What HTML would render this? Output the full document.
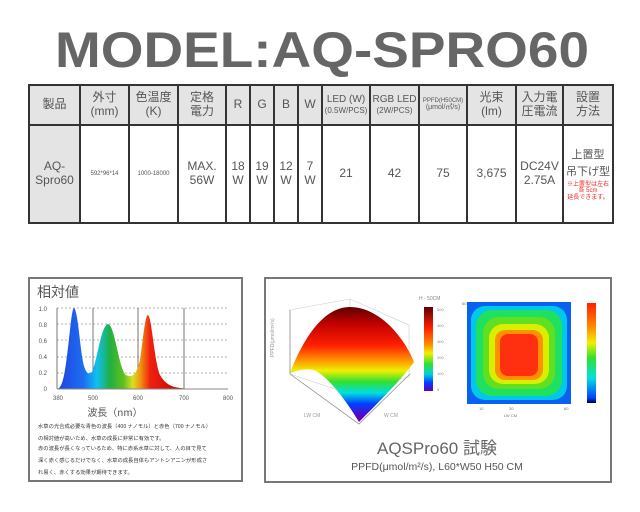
<!DOCTYPE html>
<html><head><meta charset="utf-8"><style>
body{margin:0;background:#fff;width:640px;height:512px;overflow:hidden;position:relative;font-family:"Liberation Sans","Noto Sans CJK JP",sans-serif}
.abs{position:absolute}
table{position:absolute;left:28px;top:84px;border-collapse:collapse;width:584px;height:140px;table-layout:fixed}
td{border:2px solid #333;text-align:center;color:#555;font-family:"Liberation Sans","Noto Sans CJK JP",sans-serif;padding:0;line-height:1.15;overflow:hidden}
tr.h td{background:#e4e4e4;height:38px;font-size:12px}
tr.b td{font-size:12px}
.g{background:#e4e4e4}
.sm{font-size:6px!important}
.pan{position:absolute;border:2px solid #777;background:#fff}
</style></head><body>
<svg class="abs" style="left:0;top:0" width="640" height="84">
<text x="55" y="67" textLength="534" lengthAdjust="spacingAndGlyphs" font-family="Liberation Sans" font-weight="bold" font-size="50" fill="#666">MODEL:AQ-SPRO60</text>
</svg>
<table>
<colgroup><col style="width:51px"><col style="width:49px"><col style="width:49px"><col style="width:48px"><col style="width:24px"><col style="width:24px"><col style="width:24px"><col style="width:24px"><col style="width:48px"><col style="width:49px"><col style="width:48px"><col style="width:49px"><col style="width:47px"><col style="width:50px"></colgroup>
<tr class="h"><td>製品</td><td>外寸<br>(mm)</td><td>色温度<br>(K)</td><td>定格<br>電力</td><td>R</td><td>G</td><td>B</td><td>W</td><td style="font-size:10px">LED (W)<br><span style="font-size:8px">(0.5W/PCS)</span></td><td style="font-size:10px">RGB LED<br><span style="font-size:8px">(2W/PCS)</span></td><td style="font-size:6px">PPFD(H50CM)<br><span style="font-size:7px">(μmol/㎡/s)</span></td><td>光束<br>(lm)</td><td>入力電<br>圧電流</td><td>設置<br>方法</td></tr>
<tr class="b"><td class="g">AQ-<br>Spro60</td><td class="sm">592*96*14</td><td class="sm">1000-18000</td><td>MAX.<br>56W</td><td>18<br>W</td><td>19<br>W</td><td>12<br>W</td><td>7<br>W</td><td>21</td><td>42</td><td>75</td><td>3,675</td><td>DC24V<br>2.75A</td><td style="line-height:1.6;font-size:11px;white-space:nowrap">上置型<br>吊下げ型<br><span style="color:#e22;font-size:6px;line-height:1.1;display:block">※上置型は左右<br>各 5cm<br>延長できます。</span></td></tr>
</table>

<div class="pan" style="left:28px;top:277px;width:211px;height:201px"></div>
<svg class="abs" style="left:0;top:270px" width="250" height="220">
<defs>
<linearGradient id="sp" x1="57" x2="190" gradientUnits="userSpaceOnUse">
<stop offset="0" stop-color="#2040e0"/><stop offset="0.2" stop-color="#1e6ff0"/><stop offset="0.3" stop-color="#10c0f0"/><stop offset="0.4" stop-color="#20b040"/><stop offset="0.5" stop-color="#60c020"/><stop offset="0.57" stop-color="#d8e020"/><stop offset="0.63" stop-color="#f09010"/><stop offset="0.7" stop-color="#f02010"/><stop offset="1" stop-color="#b00000"/>
</linearGradient></defs>
<text x="37" y="27" font-size="14" fill="#555" font-family="Noto Sans CJK JP,sans-serif">相対値</text>
<g stroke="#999" stroke-dasharray="2,2" stroke-width="0.8">
<line x1="57" x2="228" y1="38" y2="38"/><line x1="57" x2="228" y1="54" y2="54"/><line x1="57" x2="228" y1="70" y2="70"/><line x1="57" x2="228" y1="87" y2="87"/><line x1="57" x2="228" y1="103" y2="103"/></g>
<g stroke="#777" stroke-width="1"><line x1="57" x2="57" y1="38" y2="119"/><line x1="93" x2="93" y1="38" y2="119"/><line x1="138" x2="138" y1="38" y2="119"/><line x1="184" x2="184" y1="38" y2="119"/></g>
<path d="M57,119 C64,118 66,95 70,60 C72,42 73,38 74,38 C78,40 80,80 84,96 C87,105 89,104 92,102 C97,92 101,55 108,54 C115,55 119,100 126,105 C132,108 136,106 140,90 C143,70 145,45 148,45 C152,48 154,90 160,105 C166,115 172,117 180,118 C190,119 196,119 200,119 Z" fill="url(#sp)"/>
<line x1="57" x2="228" y1="119" y2="119" stroke="#888"/>
<g font-size="6" fill="#555" text-anchor="end"><text x="47" y="41">1.0</text><text x="47" y="57">0.8</text><text x="47" y="73">0.6</text><text x="47" y="89">0.4</text><text x="47" y="105">0.2</text><text x="47" y="121">0</text></g>
<g font-size="6" fill="#555" text-anchor="middle"><text x="58" y="130">380</text><text x="93" y="130">500</text><text x="138" y="130">600</text><text x="184" y="130">700</text><text x="228" y="130">800</text></g>
<text x="115" y="146" font-size="10" fill="#555" text-anchor="middle" font-family="Noto Sans CJK JP,sans-serif">波長（nm）</text>
<g font-size="5.3" fill="#333" font-family="Noto Sans CJK JP,sans-serif">
<text x="38" y="158">水草の光合成必要な青色の波長（400 ナノモル）と赤色（700 ナノモル）</text>
<text x="38" y="170">の相対値が高いため、水草の成長に非常に有効です。</text>
<text x="38" y="180">赤の波長が長くなっているため、特に赤系水草に対して、人の目で見て</text>
<text x="38" y="192">深く赤く感じるだけでなく、水草の成長自体もアントシアニンが形成さ</text>
<text x="38" y="204">れ易く、赤くする効果が期待できます。</text></g>
</svg>

<div class="pan" style="left:264px;top:277px;width:344px;height:202px"></div>
<svg class="abs" style="left:264px;top:277px" width="346" height="204">
<defs>
<linearGradient id="dm" x1="0" y1="30" x2="0" y2="140" gradientUnits="userSpaceOnUse">
<stop offset="0" stop-color="#600000"/><stop offset="0.15" stop-color="#c00000"/><stop offset="0.35" stop-color="#ff2000"/><stop offset="0.48" stop-color="#ff9000"/><stop offset="0.58" stop-color="#f0f000"/><stop offset="0.68" stop-color="#30e030"/><stop offset="0.78" stop-color="#00e0e0"/><stop offset="0.88" stop-color="#0040ff"/><stop offset="1" stop-color="#6000c0"/></linearGradient>
<linearGradient id="cb" x1="0" y1="0" x2="0" y2="1"><stop offset="0" stop-color="#600000"/><stop offset="0.25" stop-color="#ff2000"/><stop offset="0.45" stop-color="#ff9000"/><stop offset="0.55" stop-color="#f0f000"/><stop offset="0.68" stop-color="#30e030"/><stop offset="0.8" stop-color="#00d0e0"/><stop offset="0.9" stop-color="#0040ff"/><stop offset="1" stop-color="#6000c0"/></linearGradient>
<linearGradient id="cb2" x1="0" y1="0" x2="0" y2="1"><stop offset="0" stop-color="#ff2000"/><stop offset="0.25" stop-color="#ff9000"/><stop offset="0.4" stop-color="#f0f000"/><stop offset="0.55" stop-color="#30e030"/><stop offset="0.75" stop-color="#00e0e0"/><stop offset="0.95" stop-color="#0040ff"/><stop offset="1" stop-color="#000030"/></linearGradient>
</defs>
<g stroke="#ccc" stroke-width="0.6" fill="none"><path d="M26,33 L86,22 L145,48 L145,100 M26,33 L26,97 M86,22 L86,80"/><path d="M26,97 L80,115 L145,100"/></g>
<path d="M26,96 C40,60 60,30 86,30 C115,30 140,60 150,85 C140,100 110,130 95,145 C80,120 62,98 50,93 C40,91 32,94 26,96 Z" fill="url(#dm)"/>
<g stroke="#888" stroke-width="0.7" fill="none"><path d="M26,97 L95,147 L146,97 M26,33 L26,97"/></g>
<g font-size="5" fill="#999"><text x="10" y="80" transform="rotate(-90 10 80)">PPFD(μmol/m²/s)</text><text x="40" y="140">LW CM</text><text x="120" y="140">W CM</text></g>
<rect x="160" y="30" width="9" height="84" fill="url(#cb)"/>
<text x="155" y="23" font-size="5" fill="#888">H - 50CM</text>
<g font-size="4" fill="#888"><text x="173" y="34">500</text><text x="173" y="50">400</text><text x="173" y="66">300</text><text x="173" y="82">200</text><text x="173" y="98">100</text><text x="173" y="114">0</text></g>
<rect x="203" y="25" width="104" height="102" fill="#0a60f0"/>
<rect x="207" y="29" width="96" height="94" rx="14" fill="#00c8e8"/>
<rect x="212" y="33" width="86" height="86" rx="16" fill="#20e060"/>
<rect x="219" y="40" width="72" height="72" rx="16" fill="#60e020"/>
<rect x="225" y="47" width="60" height="60" rx="14" fill="#d8f000"/>
<rect x="231" y="53" width="48" height="50" rx="10" fill="#ff9000"/>
<rect x="236" y="57" width="38" height="42" rx="8" fill="#ff3010"/>
<g font-size="4" fill="#777"><text x="198" y="28">60</text><text x="215" y="133">10</text><text x="245" y="133">30</text><text x="300" y="133">60</text><text x="240" y="140">LW CM</text></g>
<rect x="323" y="26" width="9" height="100" fill="url(#cb2)"/>
<text x="173" y="177" font-size="17" fill="#666" text-anchor="middle" font-family="Liberation Sans,Noto Sans CJK JP,sans-serif">AQSPro60 試験</text>
<text x="173" y="193" font-size="10.5" fill="#555" text-anchor="middle" font-family="Liberation Sans,Noto Sans CJK JP,sans-serif">PPFD(μmol/m²/s), L60*W50 H50 CM</text>
</svg>
</body></html>
